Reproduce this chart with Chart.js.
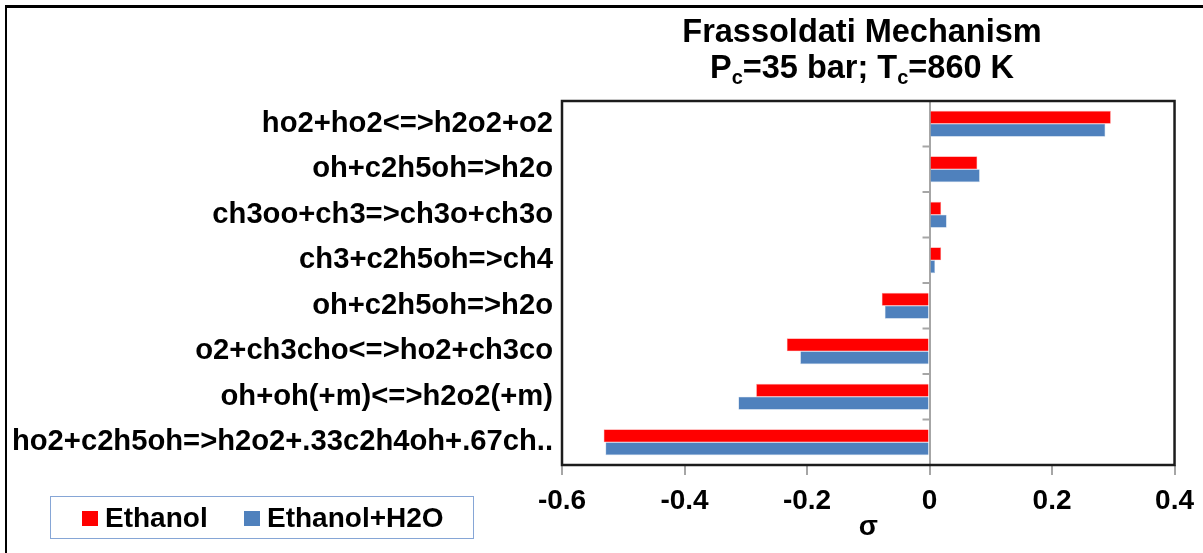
<!DOCTYPE html>
<html>
<head>
<meta charset="utf-8">
<script src="https://cdn.jsdelivr.net/npm/chart.js@4"></script>
<style>
  body { margin: 0; background: #fff; }
  #wrap { position: relative; width: 1203px; height: 553px; overflow: hidden; font-family: "Liberation Sans", Arial, sans-serif; }
  #frame { position: absolute; left: 5px; top: 5px; width: 1250px; height: 600px; border-left: 2.5px solid #000; border-top: 3px solid #000; }
  #titulo { position: absolute; left: 562px; width: 600px; top: 13px; text-align: center; font-weight: bold; font-size: 32.5px; line-height: 36px; color: #000; }
  #titulo sub { font-size: 20px; vertical-align: -6px; line-height: 0; }
  #legenda { position: absolute; left: 50px; top: 496px; width: 424px; height: 43px; border: 1.5px solid #86a6d6; box-sizing: border-box; }
  .item { position: absolute; top: 5px; font-weight: bold; font-size: 28px; line-height: 32px; color: #000; white-space: nowrap; }
  .item span { display: inline-block; width: 16px; height: 15px; margin-right: 7px; vertical-align: 1px; }
</style>
</head>
<body>
<div id="wrap">
  <canvas id="myChart"></canvas>
  <div id="frame"></div>
  <div id="titulo">Frassoldati Mechanism<br>P<sub>c</sub>=35 bar; T<sub>c</sub>=860 K</div>
  <div id="legenda"></div>
</div>
<script>
// reações (de cima para baixo)
var reacoes = [
    'ho2+ho2<=>h2o2+o2',
    'oh+c2h5oh=>h2o',
    'ch3oo+ch3=>ch3o+ch3o',
    'ch3+c2h5oh=>ch4',
    'oh+c2h5oh=>h2o',
    'o2+ch3cho<=>ho2+ch3co',
    'oh+oh(+m)<=>h2o2(+m)',
    'ho2+c2h5oh=>h2o2+.33c2h4oh+.67ch..'
];
// sensibilidades
var etanol    = [0.296, 0.078, 0.019, 0.019, -0.078, -0.233, -0.283, -0.532];
var etanolH2O = [0.287, 0.082, 0.028, 0.009, -0.073, -0.211, -0.312, -0.529];
var ticksX = [-0.6, -0.4, -0.2, 0, 0.2, 0.4];

var fonte = 'Liberation Sans, Arial, sans-serif';

// moldura da área do gráfico + pequenos traços no eixo zero
var moldura = {
    id: 'moldura',
    afterDraw: function(chart) {
        var c = chart.ctx, a = chart.chartArea;
        var x0 = chart.scales.x.getPixelForValue(0);
        var ys = chart.scales.y;
        var passo = (a.bottom - a.top) / reacoes.length;
        c.save();
        c.strokeStyle = '#a6a6a6';
        c.lineWidth = 2;
        for (var i = 0; i < reacoes.length; i++) {
            var y = ys.getPixelForValue(i) - passo / 2;
            c.beginPath();
            c.moveTo(x0 - 7, y);
            c.lineTo(x0, y);
            c.stroke();
        }
        c.strokeStyle = '#1c1c1c';
        c.lineWidth = 2.5;
        c.strokeRect(a.left, a.top, a.right - a.left, a.bottom - a.top);
        c.restore();
    }
};

var ctx = document.getElementById('myChart').getContext('2d');
var myChart = new Chart(ctx, {
    type: 'bar',
    data: {
        labels: reacoes,
        datasets: [{
            label: 'Ethanol',
            data: etanol,
            backgroundColor: '#ff0000',
            borderColor: '#ff9090',
            borderWidth: 0.6
        }, {
            label: 'Ethanol+H2O',
            data: etanolH2O,
            backgroundColor: '#4f81bd',
            borderColor: '#a9c1df',
            borderWidth: 0.6
        }]
    },
    options: {
        indexAxis: 'y',
        responsive: true,
        maintainAspectRatio: false,
        animation: false,
        layout: { padding: { top: 101, left: 10, right: 28, bottom: 0 } },
        plugins: {
            legend: { display: false },
            title: { display: false },
            tooltip: { enabled: false }
        },
        datasets: { bar: { categoryPercentage: 0.57, barPercentage: 1.0 } },
        scales: {
            x: {
                min: -0.6,
                max: 0.4,
                afterBuildTicks: function(s) { s.ticks = ticksX.map(function(v) { return { value: v }; }); },
                afterFit: function(s) { s.height = 88; },
                border: { display: false },
                grid: {
                    color: function(c) { return c.tick && c.tick.value === 0 ? '#a6a6a6' : 'rgba(0,0,0,0)'; },
                    lineWidth: 2,
                    tickColor: '#a6a6a6',
                    tickLength: 10
                },
                ticks: {
                    color: '#000',
                    padding: 9,
                    font: { family: fonte, size: 28, weight: 'bold' },
                    callback: function(v) { return String(v); }
                },
                title: {
                    display: true,
                    text: 'σ',
                    color: '#000',
                    padding: { top: 0, bottom: 9 },
                    font: { family: fonte, size: 28, weight: 'bold' }
                }
            },
            y: {
                afterFit: function(s) { s.width = 552; },
                border: { display: false },
                grid: { display: false, drawTicks: false },
                ticks: {
                    color: '#000',
                    padding: 9,
                    autoSkip: false,
                    font: { family: fonte, size: 29.2, weight: 'bold' }
                }
            }
        }
    },
    plugins: [moldura]
});

// legenda em html, a partir dos datasets
var leg = document.getElementById('legenda');
var posicoes = [31, 193];
myChart.data.datasets.forEach(function(ds, i) {
    var d = document.createElement('div');
    d.className = 'item';
    d.style.left = posicoes[i] + 'px';
    d.innerHTML = '<span style="background:' + ds.backgroundColor + '"></span>' + ds.label;
    leg.appendChild(d);
});
</script>
</body>
</html>
